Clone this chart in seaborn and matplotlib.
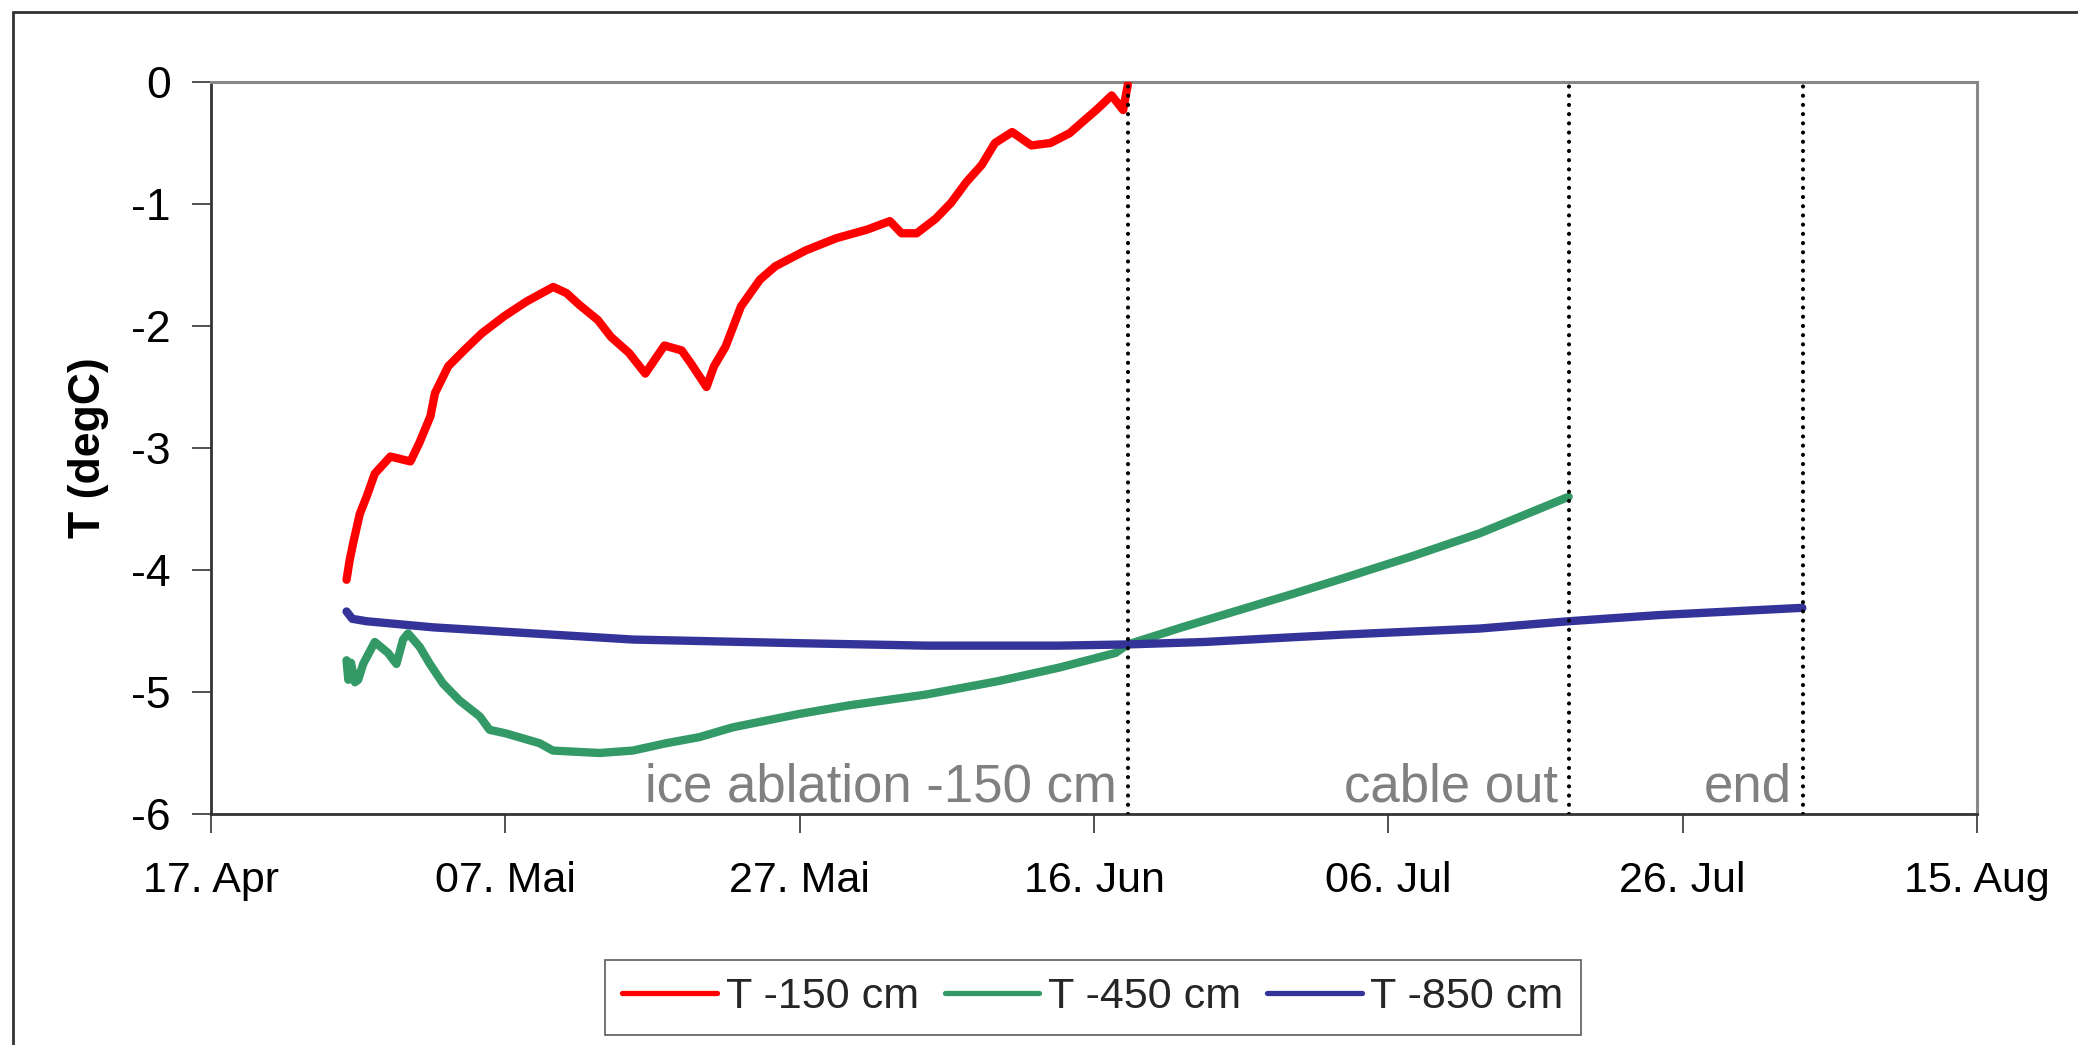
import matplotlib
matplotlib.use("Agg")
import matplotlib.pyplot as plt
import matplotlib.dates as mdates
from matplotlib.lines import Line2D
import numpy as np
import pandas as pd
import seaborn as sns

# ---------------- data (days after 17 Apr, temperature in degC) ----------------
start_date = "2005-04-17"

red_days = [9.21, 9.42, 9.66, 10.11, 10.57, 11.13, 12.19, 13.55, 14.15, 14.91, 15.22,
            16.12, 17.19, 18.40, 19.92, 21.43, 23.25, 24.15, 25.06, 26.28, 27.18, 28.40,
            29.51, 30.81, 31.98, 32.63, 33.67, 34.18, 34.96, 36.01, 37.30, 38.35, 40.42,
            42.50, 44.58, 46.13, 46.92, 47.95, 49.25, 50.29, 51.33, 52.37, 53.27, 54.44,
            55.74, 57.04, 58.34, 59.38, 60.15, 61.20, 61.98, 62.30]
red_vals = [-4.08, -3.92, -3.78, -3.54, -3.40, -3.21, -3.07, -3.11, -2.96, -2.74, -2.55,
            -2.33, -2.20, -2.06, -1.92, -1.80, -1.68, -1.73, -1.83, -1.95, -2.09, -2.22,
            -2.39, -2.16, -2.20, -2.31, -2.50, -2.33, -2.17, -1.84, -1.62, -1.51, -1.38,
            -1.28, -1.21, -1.14, -1.24, -1.24, -1.12, -0.99, -0.82, -0.68, -0.50, -0.41,
            -0.52, -0.50, -0.42, -0.31, -0.23, -0.11, -0.23, -0.02]

green_days = [9.21, 9.33, 9.51, 9.78, 10.00, 10.34, 11.13, 12.03, 12.60, 13.05, 13.39,
              14.18, 14.87, 15.76, 16.89, 18.26, 18.93, 20.06, 22.33, 23.23, 26.39, 28.66,
              30.92, 33.18, 35.44, 39.96, 43.33, 48.63, 53.53, 57.63, 61.46, 62.30, 65.97,
              73.67, 76.87, 81.55, 86.19, 92.25]
green_vals = [-4.74, -4.90, -4.76, -4.92, -4.90, -4.77, -4.59, -4.68, -4.77, -4.57, -4.52,
              -4.63, -4.77, -4.93, -5.07, -5.20, -5.31, -5.34, -5.42, -5.48, -5.50, -5.48,
              -5.42, -5.37, -5.29, -5.18, -5.11, -5.02, -4.91, -4.80, -4.68, -4.61, -4.47,
              -4.19, -4.07, -3.89, -3.70, -3.40]

blue_days = [9.21, 9.60, 10.57, 15.09, 21.87, 28.66, 39.96, 48.63, 57.63, 62.30, 67.52,
             73.67, 76.87, 86.19, 92.25, 98.33, 108.13]
blue_vals = [-4.34, -4.40, -4.42, -4.47, -4.52, -4.57, -4.60, -4.62, -4.62, -4.61, -4.59,
             -4.55, -4.53, -4.48, -4.42, -4.37, -4.31]

series_names = ["T -150 cm", "T -450 cm", "T -850 cm"]
series_colors = ["#FF0000", "#339966", "#333399"]

event_days = [62.3, 92.3, 108.2]
event_labels = ["ice ablation -150 cm", "cable out", "end"]

tick_days = [0, 20, 40, 60, 80, 100, 120]
tick_labels = ["17. Apr", "07. Mai", "27. Mai", "16. Jun", "06. Jul", "26. Jul", "15. Aug"]
y_ticks = [0, -1, -2, -3, -4, -5, -6]

# ---------------- build frame ----------------
t0 = pd.Timestamp(start_date)
def to_dates(days):
    return t0 + pd.to_timedelta(np.asarray(days), unit="D")

df = pd.concat([
    pd.DataFrame({"date": to_dates(red_days), "T": red_vals, "series": series_names[0]}),
    pd.DataFrame({"date": to_dates(green_days), "T": green_vals, "series": series_names[1]}),
    pd.DataFrame({"date": to_dates(blue_days), "T": blue_vals, "series": series_names[2]}),
], ignore_index=True)

sns.set_style("white")
plt.rcParams["font.family"] = ["Liberation Sans", "DejaVu Sans"]

W, H = 2078, 1045
fig = plt.figure(figsize=(W / 100, H / 100), dpi=100)
ax = fig.add_axes([211 / W, 1 - 814 / H, (1977 - 211) / W, (814 - 82) / H])

sns.lineplot(data=df, x="date", y="T", hue="series", hue_order=series_names,
             palette=series_colors, linewidth=6, estimator=None, sort=False,
             legend=False, ax=ax, zorder=3)
for ln in ax.lines:
    ln.set_linewidth(6)
    ln.set_solid_joinstyle("round")
    ln.set_solid_capstyle("round")

# event lines and annotations
for d, lab in zip(event_days, event_labels):
    x = mdates.date2num(t0 + pd.Timedelta(days=d))
    ax.axvline(x, color="black", linestyle=(0, (0.01, 2.2)), linewidth=3.0, zorder=4,
               dash_capstyle="round")
    ax.annotate(lab, xy=(x, -5.9), xytext=(-8, 0), textcoords="offset points",
                ha="right", va="baseline", color="#808080", fontsize=38)

ax.set_xlim(mdates.date2num(to_dates([tick_days[0]])[0]),
            mdates.date2num(to_dates([tick_days[-1]])[0]))
ax.set_ylim(-6, 0)
ax.set_xticks(mdates.date2num(to_dates(tick_days)))
ax.set_xticklabels(tick_labels)
ax.set_yticks(y_ticks)
ax.set_yticklabels([str(v) for v in y_ticks])
ax.tick_params(axis="x", direction="out", length=14, width=1.2, color="#333333",
               labelsize=31, pad=20, bottom=True, labelcolor="black")
ax.tick_params(axis="y", direction="out", length=14, width=1.2, color="#333333",
               labelsize=32, pad=15, left=True, labelcolor="black")
ax.set_xlabel("")
ax.set_ylabel("T (degC)", fontsize=32, fontweight="bold", color="black")
ax.yaxis.set_label_coords(-0.058, 0.5)

for side in ["left", "bottom"]:
    ax.spines[side].set_color("#333333")
    ax.spines[side].set_linewidth(2)
for side in ["top", "right"]:
    ax.spines[side].set_color("#888888")
    ax.spines[side].set_linewidth(2.2)
    ax.spines[side].set_visible(True)

# outer chart border (only top and left are visible in the frame)
fig.add_artist(Line2D([12.5 / W, 1.0], [1 - 12 / H, 1 - 12 / H], color="#333333",
                      linewidth=2, transform=fig.transFigure))
fig.add_artist(Line2D([12.5 / W, 12.5 / W], [0, 1 - 12 / H], color="#333333",
                      linewidth=2, transform=fig.transFigure))

handles = [Line2D([0], [0], color=c, linewidth=3.8, solid_capstyle="round") for c in series_colors]
leg = fig.legend(handles, series_names, loc="center", bbox_to_anchor=(1093 / W, 1 - 997.5 / H),
                 ncol=3, fontsize=31, frameon=True, fancybox=False, handlelength=2.2,
                 handletextpad=0.2, columnspacing=0.6, borderpad=0.4)
leg.get_frame().set_edgecolor("#333333")
leg.get_frame().set_linewidth(1.2)

fig.savefig("out.png", dpi=100, facecolor="white")
